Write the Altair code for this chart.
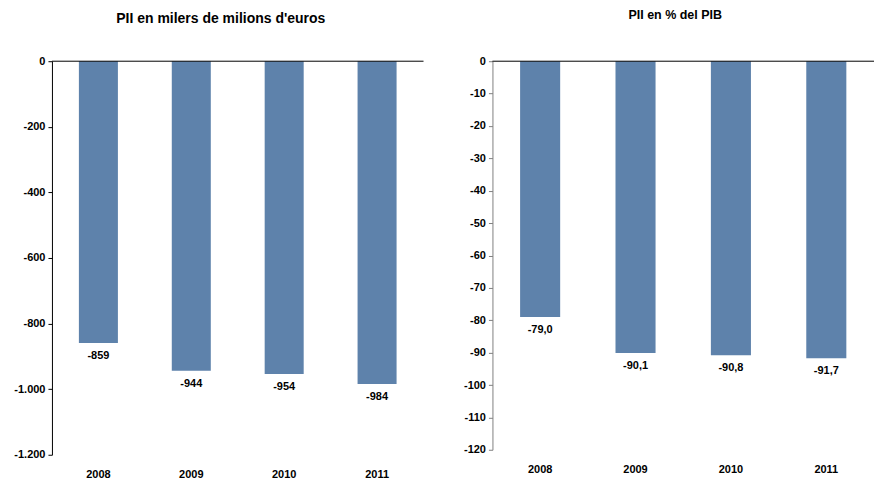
import altair as alt
import pandas as pd

years = ["2008", "2009", "2010", "2011"]
pii_bn = [-859, -944, -954, -984]
pii_pct = [-79.0, -90.1, -90.8, -91.7]
left_ticks = [0, -200, -400, -600, -800, -1000, -1200]
right_ticks = [0, -10, -20, -30, -40, -50, -60, -70, -80, -90, -100, -110, -120]
left_title = "PII en milers de milions d'euros"
right_title = "PII en % del PIB"

FONT = "Liberation Sans"
BAR = "#5E82AB"


def panel(values, title, ticks, dom, fmt, lfmt, w, h, axis_color,
          t_size, t_offset, t_dx):
    df = pd.DataFrame({"year": years, "value": values})
    xscale = alt.Scale(paddingInner=0.58, paddingOuter=0.29)
    yscale = alt.Scale(domain=dom, nice=False)
    xaxis = alt.Axis(orient="bottom", domain=False, ticks=False,
                     labelAngle=0, labelFont=FONT, labelFontSize=11,
                     labelFontWeight="bold", labelColor="black",
                     labelPadding=14, title=None)
    yaxis = alt.Axis(values=ticks, format=fmt, grid=False, title=None,
                     domainColor=axis_color, tickColor=axis_color, tickSize=4,
                     labelFont=FONT, labelFontSize=11, labelFontWeight="bold",
                     labelColor="black", labelPadding=3)
    base = alt.Chart(df)
    bars = base.mark_bar(color=BAR).encode(
        x=alt.X("year:N", scale=xscale, axis=xaxis, title=None),
        y=alt.Y("value:Q", scale=yscale, axis=yaxis, title=None),
    )
    labels = base.mark_text(dy=13, font=FONT, fontSize=11, fontWeight="bold",
                            color="black").encode(
        x=alt.X("year:N", scale=xscale, axis=xaxis, title=None),
        y=alt.Y("value:Q", scale=yscale, axis=yaxis, title=None),
        text=alt.Text("value:Q", format=lfmt),
    )
    zero = base.mark_rule(color="black", strokeWidth=1).encode(
        y=alt.Y("value:Q", aggregate="max", scale=yscale, axis=yaxis, title=None),
    ).transform_calculate(value="0")
    return alt.layer(bars, labels, zero).properties(
        width=w, height=h,
        title=alt.TitleParams(title, font=FONT, fontSize=t_size, fontWeight="bold",
                              color="black", offset=t_offset, dx=t_dx,
                              anchor="middle"),
    )


left = panel(pii_bn, left_title, left_ticks, [-1200, 0], ",.0f", ",.0f",
             372, 394, "black", 14, 29, -17)
right = panel(pii_pct, right_title, right_ticks, [-120, 0], ",.0f", ".1f",
              382, 389, "#808080", 12.5, 34, -8)

chart = alt.hconcat(left, right, spacing=38).properties(
    padding={"left": 5, "top": 0, "right": 0, "bottom": 0}
).configure(
    locale=alt.Locale(number=alt.NumberLocale(decimal=",", thousands=".",
                                              grouping=[3], currency=["", " €"],
                                              minus="-"))
).configure_view(stroke=None)

chart.save("out.html", embed_options={"renderer": "svg", "actions": False})
